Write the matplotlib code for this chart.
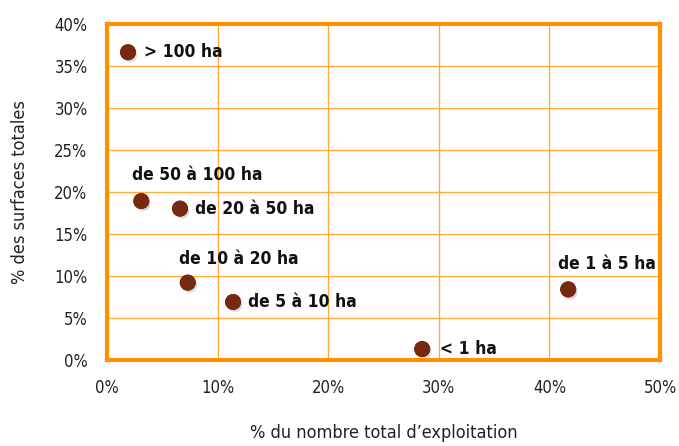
import matplotlib
matplotlib.use("Agg")
from matplotlib import pyplot as plt
from matplotlib import patheffects as pe
from matplotlib.ticker import PercentFormatter

# part des exploitations (%) et part des surfaces (%) par classe de taille
classes = ["> 100 ha", "de 50 à 100 ha", "de 20 à 50 ha", "de 10 à 20 ha",
           "de 5 à 10 ha", "< 1 ha", "de 1 à 5 ha"]
pct_exploitations = [1.9, 3.1, 6.6, 7.3, 11.4, 28.5, 41.7]
pct_surfaces = [36.6, 18.9, 18.0, 9.2, 6.9, 1.3, 8.4]

# position of each label relative to its point (pixels)
label_pos = {
    "> 100 ha": (16, 0, "left", "center"),
    "de 50 à 100 ha": (-9, 17, "left", "bottom"),
    "de 20 à 50 ha": (15, 0, "left", "center"),
    "de 10 à 20 ha": (-9, 15, "left", "bottom"),
    "de 5 à 10 ha": (15, 0, "left", "center"),
    "< 1 ha": (18, 0, "left", "center"),
    "de 1 à 5 ha": (-10, 16, "left", "bottom"),
}

plt.rcParams["font.family"] = ["DejaVu Sans"]
plt.rcParams["font.stretch"] = "condensed"

orange = "#FF9000"
grid_orange = "#FFAA3C"
point_color = "#76290F"
shadow = [pe.withSimplePatchShadow(offset=(1.5, -2), shadow_rgbFace="0.6", alpha=0.35), pe.Normal()]

fig = plt.figure(figsize=(6.79, 4.46), dpi=100)
ax = fig.add_axes([0.1576, 0.1928, 0.8144, 0.7542])

ax.scatter(pct_exploitations, pct_surfaces, s=110, color=point_color, zorder=3,
           path_effects=shadow)

for name, x, y in zip(classes, pct_exploitations, pct_surfaces):
    dx, dy, ha, va = label_pos[name]
    ax.annotate(name, (x, y), xytext=(dx, dy), textcoords="offset pixels",
                ha=ha, va=va, fontsize=12.5, fontweight="bold", color="#111111",
                zorder=4)

ax.set_xlim(0, 50)
ax.set_ylim(0, 40)
ax.set_xticks(range(0, 51, 10))
ax.set_yticks(range(0, 41, 5))
ax.xaxis.set_major_formatter(PercentFormatter(decimals=0))
ax.yaxis.set_major_formatter(PercentFormatter(decimals=0))
ax.grid(True, color=grid_orange, linewidth=1.0)
ax.set_axisbelow(True)
for side in ax.spines.values():
    side.set_color(orange)
    side.set_linewidth(3)
ax.tick_params(length=0, labelsize=12, colors="#222222", pad=14)

ax.set_xlabel("% du nombre total d\u2019exploitation", fontsize=13, color="#222222", labelpad=19)
ax.set_ylabel("% des surfaces totales", fontsize=13, color="#222222", labelpad=18)

fig.savefig("out.png", dpi=100)
